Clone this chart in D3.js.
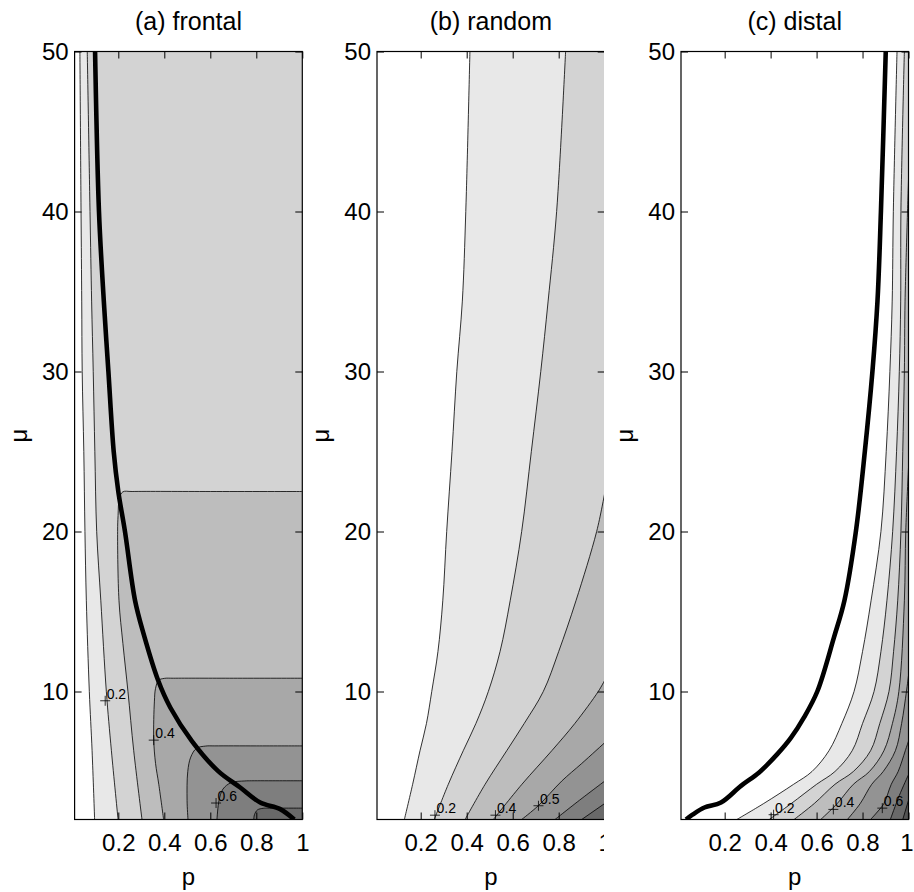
<!DOCTYPE html>
<html><head><meta charset="utf-8">
<script src="https://cdn.jsdelivr.net/npm/d3@7"></script>
<style>body{margin:0;background:#fff} text{font-family:"Liberation Sans",Arial,Helvetica,sans-serif;fill:#000}</style>
</head><body><svg id="chart" width="914" height="892"></svg>
<script>
// ---------- data ----------
const panelTitles = ["(a) frontal", "(b) random", "(c) distal"];
const xTicks = [0.2, 0.4, 0.6, 0.8, 1];
const xTickLabels = ["0.2", "0.4", "0.6", "0.8", "1"];
const yTicks = [10, 20, 30, 40, 50];
const yTickLabels = ["10", "20", "30", "40", "50"];
const pDomain = [0.01, 1];
const muDomain = [2, 50];
const levels = [0.1, 0.2, 0.3, 0.4, 0.5, 0.6, 0.7, 0.8];
const bandColors = ["#ffffff", "#e8e8e8", "#d3d3d3", "#bdbdbd", "#a8a8a8", "#939393", "#7e7e7e", "#696969", "#545454"];

// contour lines [p, mu], one per level
const frontalContours = [
  [[0.033,50],[0.038,40],[0.041,34.4],[0.043,30],[0.05,25],[0.055,20],[0.061,15.67],[0.074,10],[0.086,6.3],[0.097,2]],
  [[0.065,50],[0.077,40],[0.084,34.4],[0.091,30],[0.098,25],[0.106,20],[0.124,15.67],[0.148,10],[0.170,6.3],[0.199,2]],
  [[1,22.5],[0.6,22.5],[0.26,22.5],[0.22,22.48],[0.205,22.1],[0.199,21],[0.197,20],[0.203,15.67],[0.22,13],[0.242,10],[0.267,6.3],[0.303,2]],
  [[1,10.83],[0.7,10.83],[0.44,10.83],[0.40,10.82],[0.375,10.7],[0.362,10.2],[0.357,9.4],[0.354,7.0],[0.362,5.5],[0.376,4.2],[0.397,2]],
  [[1,6.6],[0.8,6.6],[0.62,6.6],[0.58,6.59],[0.54,6.45],[0.515,5.9],[0.502,5.0],[0.499,3.2],[0.503,2]],
  [[1,4.42],[0.9,4.42],[0.78,4.42],[0.75,4.41],[0.69,4.3],[0.655,3.9],[0.638,3.2],[0.629,2]],
  [[1,2.71],[0.93,2.71],[0.85,2.71],[0.83,2.7],[0.805,2.6],[0.792,2.3],[0.789,2]]
];
const frontalBoundary = [[0.099,50],[0.116,40],[0.137,34.4],[0.157,30],[0.18,25],[0.2,22.5],[0.229,20],[0.273,15.67],[0.31,13.6],[0.373,10.7],[0.426,9],[0.52,6.9],[0.633,5.04],[0.73,4.0],[0.817,3.06],[0.904,2.65],[0.965,2]];
const frontalLabels = [["0.2",0.143,9.42],["0.4",0.354,6.96],["0.6",0.625,3.03]];

const randomContours = [
  [[0.414,50],[0.396,40],[0.381,34.4],[0.357,30],[0.336,25],[0.313,20],[0.296,15.67],[0.275,12.5],[0.248,10],[0.225,8],[0.197,6.3],[0.165,4.2],[0.129,2]],
  [[0.830,50],[0.791,40],[0.754,34.4],[0.722,30],[0.681,25],[0.639,20],[0.589,15.67],[0.545,12.5],[0.494,10],[0.44,8],[0.385,6.3],[0.32,4.2],[0.259,2]],
  [[1,22.4],[0.965,20],[0.875,15.67],[0.80,12.5],[0.733,10],[0.65,8],[0.574,6.3],[0.48,4.2],[0.393,2]],
  [[1,10.7],[0.972,10],[0.87,8],[0.77,6.3],[0.64,4.2],[0.516,2]],
  [[1,6.8],[0.90,5.5],[0.813,4.4],[0.711,2.86],[0.639,2]],
  [[1,4.4],[0.89,3.2],[0.784,2]],
  [[1,3.0],[0.9,2]]
];
const randomBoundary = [];
const randomLabels = [["0.2",0.262,2.27],["0.4",0.525,2.27],["0.5",0.712,2.86]];

const distalContours = [
  [[0.950,50],[0.934,40],[0.929,34.4],[0.919,30],[0.903,25],[0.880,20],[0.837,15.67],[0.80,12.5],[0.763,10],[0.71,8],[0.654,6.3],[0.58,5.0],[0.50,4.2],[0.37,3.0],[0.253,2]],
  [[0.982,50],[0.967,40],[0.966,34.4],[0.960,30],[0.948,25],[0.931,20],[0.906,15.67],[0.88,12.5],[0.85,10],[0.80,8],[0.755,6.3],[0.68,5.0],[0.60,4.2],[0.49,3.0],[0.394,2]],
  [[1,42],[0.985,34.4],[0.982,30],[0.975,25],[0.967,20],[0.953,15.67],[0.935,12.5],[0.915,10],[0.875,8],[0.835,6.3],[0.76,5],[0.68,4.2],[0.59,3],[0.502,2]],
  [[1,24],[0.988,20],[0.982,15.67],[0.958,10],[0.93,8],[0.893,6.3],[0.83,5],[0.76,4.2],[0.69,3.0],[0.618,2]],
  [[1,11],[0.991,10],[0.97,8],[0.943,6.3],[0.89,5],[0.84,4.2],[0.79,3],[0.734,2]],
  [[1,6.9],[0.986,6.3],[0.955,5],[0.925,4.2],[0.893,3.0],[0.86,2.4],[0.835,2]],
  [[1,4.8],[0.96,3.5],[0.921,2]],
  [[1,3.2],[0.975,2]]
];
const distalBoundary = [[0.901,50],[0.880,40],[0.865,34.4],[0.843,30],[0.81,25],[0.771,20],[0.721,15.67],[0.676,13.4],[0.603,10],[0.546,8.4],[0.488,7.1],[0.430,6.1],[0.350,4.94],[0.271,4.1],[0.184,3.06],[0.112,2.75],[0.06,2.3],[0.032,2.0]];
const distalLabels = [["0.2",0.413,2.3],["0.4",0.673,2.63],["0.6",0.886,2.71]];

// ---------- layout ----------
const panels = [
  {title: panelTitles[0], contours: frontalContours, boundary: frontalBoundary, labels: frontalLabels, x0: 74.6, x1: 302.3, clipRight: null},
  {title: panelTitles[1], contours: randomContours, boundary: randomBoundary, labels: randomLabels, x0: 377, x1: 604.7, clipRight: 604},
  {title: panelTitles[2], contours: distalContours, boundary: distalBoundary, labels: distalLabels, x0: 681, x1: 908.5, clipRight: null}
];
const W = 914;
const plotTop = 51.5, plotBottom = 819.5;
const svg = d3.select("#chart");
const defs = svg.append("defs");

panels.forEach((pn, i) => {
  const x = d3.scaleLinear().domain(pDomain).range([pn.x0, pn.x1]);
  const y = d3.scaleLinear().domain(muDomain).range([plotBottom, plotTop]);
  const g = svg.append("g");
  if (pn.clipRight) {
    defs.append("clipPath").attr("id", "pclip" + i).append("rect")
      .attr("x", pn.x0 - 80).attr("y", 0).attr("width", pn.clipRight - pn.x0 + 80).attr("height", 892);
    g.attr("clip-path", `url(#pclip${i})`);
  }
  defs.append("clipPath").attr("id", "clip" + i).append("rect")
    .attr("x", pn.x0).attr("y", plotTop).attr("width", pn.x1 - pn.x0).attr("height", plotBottom - plotTop);
  const plot = g.append("g").attr("clip-path", `url(#clip${i})`);
  plot.append("rect").attr("x", pn.x0).attr("y", plotTop).attr("width", pn.x1 - pn.x0).attr("height", plotBottom - plotTop)
    .attr("fill", bandColors[0]);
  const line = d3.line().x(d => x(d[0])).y(d => y(d[1])).curve(d3.curveCatmullRom.alpha(0.5));
  pn.contours.forEach((c, k) => {
    const closure = [[pDomain[1], muDomain[0]]];
    if (c[0][1] === muDomain[1]) closure.push([pDomain[1], muDomain[1]]);
    const d = line(c) + closure.map(q => `L${x(q[0])},${y(q[1])}`).join("") + "Z";
    plot.append("path").attr("d", d).attr("fill", bandColors[k + 1]).attr("stroke", "none");
  });
  pn.contours.forEach(c => {
    plot.append("path").attr("d", line(c)).attr("fill", "none").attr("stroke", "#000").attr("stroke-width", 0.8);
  });
  if (pn.boundary.length) {
    plot.append("path").attr("d", line(pn.boundary)).attr("fill", "none").attr("stroke", "#000")
      .attr("stroke-width", 4.6).attr("stroke-linejoin", "round");
  }
  // contour labels
  pn.labels.forEach(([t, p, m]) => {
    const cx = x(p), cy = y(m);
    plot.append("path").attr("d", `M${cx - 5},${cy}H${cx + 5}M${cx},${cy - 5}V${cy + 5}`)
      .attr("stroke", "#000").attr("stroke-width", 0.8);
    plot.append("text").attr("x", cx + 1.5).attr("y", cy - 2).attr("font-size", 14).text(t);
  });
  // axes
  const fs = 24;
  const ax = (gen, tr) => {
    const a = g.append("g").attr("transform", tr).call(gen);
    a.select(".domain").remove();
    a.selectAll("line").attr("stroke", "#000").attr("stroke-width", 1);
    a.selectAll("text").attr("font-size", fs).attr("fill", "#000").attr("font-family", null);
    return a;
  };
  ax(d3.axisLeft(y).tickValues(yTicks).tickFormat((d, j) => yTickLabels[j]).tickSize(-7).tickPadding(6), `translate(${pn.x0},0)`);
  ax(d3.axisRight(y).tickValues(yTicks).tickFormat("").tickSize(-7), `translate(${pn.x1},0)`);
  ax(d3.axisTop(x).tickValues(xTicks).tickFormat("").tickSize(-7), `translate(0,${plotTop})`);
  const bx = ax(d3.axisBottom(x).tickValues(xTicks).tickFormat((d, j) => xTickLabels[j]).tickSize(-7).tickPadding(14), `translate(0,${plotBottom})`);
  g.selectAll(".tick text").attr("font-family", "'Liberation Sans', Arial, sans-serif");
  // keep the last tick label inside the page edge
  if (!pn.clipRight) {
    bx.selectAll(".tick text").each(function() {
      const b = this.getBoundingClientRect();
      if (b.right > W) d3.select(this).attr("x", W - b.right - 0.5);
    });
  }
  // frame
  g.append("rect").attr("x", pn.x0).attr("y", plotTop).attr("width", pn.x1 - pn.x0).attr("height", plotBottom - plotTop)
    .attr("fill", "none").attr("stroke", "#000").attr("stroke-width", 1.2);
  // titles and axis labels
  const cx = (pn.x0 + pn.x1) / 2;
  g.append("text").attr("x", cx).attr("y", 30).attr("text-anchor", "middle").attr("font-size", 25).text(pn.title);
  g.append("text").attr("x", cx).attr("y", 885).attr("text-anchor", "middle").attr("font-size", 24).text("p");
  g.append("text").attr("transform", `translate(${pn.x0 - 48},${(plotTop + plotBottom) / 2}) rotate(-90)`)
    .attr("text-anchor", "middle").attr("font-size", 24).text("μ");
});
</script></body></html>
